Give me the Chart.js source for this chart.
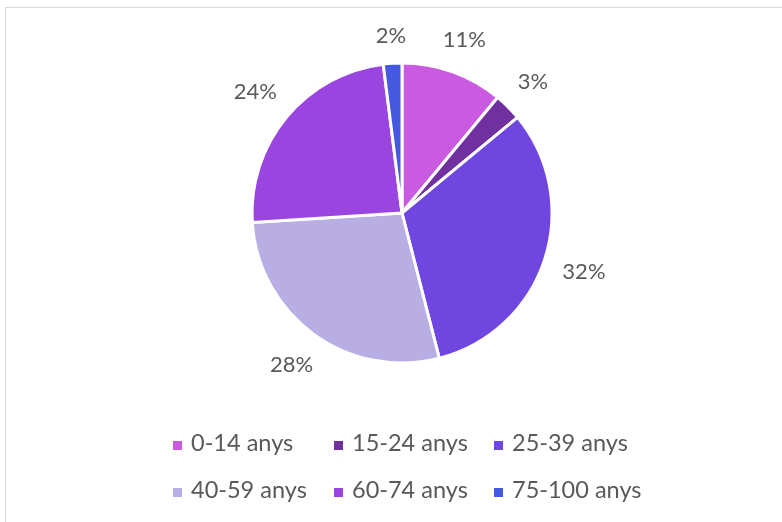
<!DOCTYPE html>
<html>
<head>
<meta charset="utf-8">
<script src="https://cdn.jsdelivr.net/npm/chart.js@4.4.0/dist/chart.umd.min.js"></script>
<style>
    body { margin: 0; background: #fff; }
    #frame { position: absolute; left: 5px; top: 7px; width: 800px; height: 540px; border: 1px solid #d9d9d9; }
    #myChart { position: absolute; left: 0; top: 0; }
</style>
</head>
<body>
<div id="frame"></div>
<canvas id="myChart" width="782" height="522"></canvas>
<script>
const categories = ['0-14 anys', '15-24 anys', '25-39 anys', '40-59 anys', '60-74 anys', '75-100 anys'];
const percentValues = [11, 3, 32, 28, 24, 2];
const sliceColors = ['#ca5ae0', '#7030a0', '#6f46e0', '#b8aee4', '#9a45e0', '#4459e0'];

const textColor = '#595959';
const fontFamily = 'Lato, "Liberation Sans", sans-serif';

// percent labels outside each slice
const outsideLabels = {
    id: 'outsideLabels',
    afterDatasetsDraw(chart) {
        const ctx = chart.ctx;
        const arcs = chart.getDatasetMeta(0).data;
        ctx.save();
        ctx.font = '22px ' + fontFamily;
        ctx.fillStyle = textColor;
        ctx.textAlign = 'center';
        ctx.textBaseline = 'middle';
        for (let i = 0; i < arcs.length; i++) {
            const arc = arcs[i];
            const mid = (arc.startAngle + arc.endAngle) / 2;
            const txt = percentValues[i] + '%';
            const halfW = ctx.measureText(txt).width / 2;
            const halfH = 9;
            const cos = Math.cos(mid), sin = Math.sin(mid);
            const d = arc.outerRadius + 18 + Math.abs(cos) * halfW + Math.abs(sin) * halfH;
            ctx.fillText(txt, arc.x + cos * d, arc.y + sin * d);
        }
        ctx.restore();
    }
};

// legend laid out in a 3 column grid like the original
const gridLegend = {
    id: 'gridLegend',
    afterDraw(chart) {
        const ctx = chart.ctx;
        const colX = [173, 334, 494];
        const rowY = [445, 492];
        ctx.save();
        ctx.font = '23.5px ' + fontFamily;
        ctx.textBaseline = 'middle';
        for (let i = 0; i < categories.length; i++) {
            const x = colX[i % 3];
            const y = rowY[Math.floor(i / 3)];
            ctx.fillStyle = sliceColors[i];
            ctx.fillRect(x, y - 4, 9, 9);
            ctx.fillStyle = textColor;
            ctx.fillText(categories[i], x + 18, y - 2);
        }
        ctx.restore();
    }
};

const ctx = document.getElementById('myChart').getContext('2d');
const myChart = new Chart(ctx, {
    type: 'pie',
    data: {
        labels: categories,
        datasets: [{
            data: percentValues,
            backgroundColor: sliceColors,
            borderColor: '#ffffff',
            borderWidth: 3
        }]
    },
    options: {
        responsive: false,
        animation: false,
        radius: 150,
        layout: { padding: { left: 252, right: 230, top: 63, bottom: 159 } },
        plugins: {
            legend: { display: false },
            tooltip: { enabled: false }
        }
    },
    plugins: [outsideLabels, gridLegend]
});
</script>
</body>
</html>
